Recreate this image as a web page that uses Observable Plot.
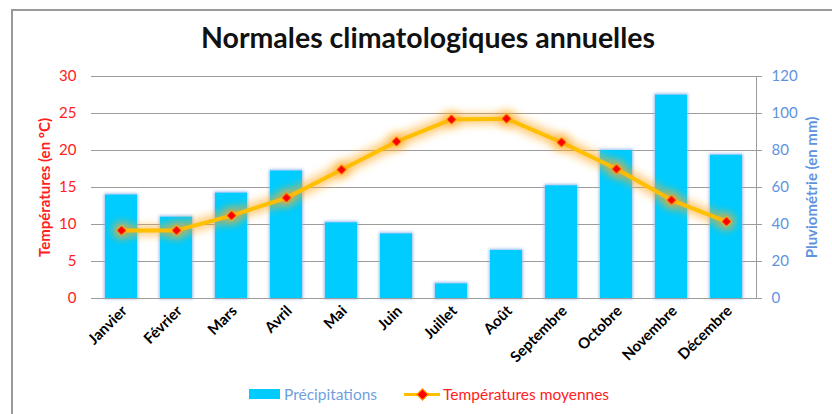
<!DOCTYPE html>
<html><head><meta charset="utf-8">
<script src="https://cdn.jsdelivr.net/npm/d3@7"></script>
<script src="https://cdn.jsdelivr.net/npm/@observablehq/plot@0.6"></script>
<style>
body{margin:0;background:#fff;font-family:Lato,"Open Sans",sans-serif;}
#wrap{position:relative;width:832px;height:414px;overflow:hidden;background:#fff;}
#frame{position:absolute;left:11px;top:9px;width:900px;height:500px;border-left:2px solid #9a9a9a;border-top:2px solid #9a9a9a;}
#chart{position:absolute;left:0;top:0;}
#title{position:absolute;left:0;width:856px;top:20px;text-align:center;font-weight:bold;font-size:28.5px;color:#111;z-index:2;}
#legend{position:absolute;top:385px;left:249px;font-size:15.5px;display:flex;align-items:center;z-index:2;white-space:nowrap;}
.sw{display:inline-block;width:31px;height:10px;background:#00CCFF;margin-right:4px;}
.ln{display:inline-block;position:relative;width:36px;height:12px;margin-left:27px;margin-right:3px;}
.ln:before{content:"";position:absolute;left:0;right:0;top:5px;height:3px;background:#FFC000;}
.ln:after{content:"";position:absolute;left:14px;top:2px;width:7px;height:7px;background:#FF0000;border:1px solid #FFC000;transform:rotate(45deg);}
g[aria-label="y-axis label"] text, g[aria-label="x-axis tick label"] text{font-weight:bold;}
</style>
</head><body>
<div id="wrap">
  <div id="frame"></div>
  <div id="chart"></div>
  <div id="title">Normales climatologiques annuelles</div>
  <div id="legend"><span class="sw"></span><span style="color:#6f9fe0">Précipitations</span><span class="ln"></span><span style="color:#ff2020">Températures moyennes</span></div>
</div>
<script>
const mois = ["Janvier","Février","Mars","Avril","Mai","Juin","Juillet","Août","Septembre","Octobre","Novembre","Décembre"];
const precipitations = [56, 44, 57, 69, 41, 35, 8, 26, 61, 80, 110, 77.5];
const temperatures = [9.2, 9.2, 11.2, 13.6, 17.4, 21.2, 24.2, 24.3, 21.1, 17.5, 13.3, 10.4];
const ticksTemp = [0, 5, 10, 15, 20, 25, 30];
const ticksPluie = [0, 20, 40, 60, 80, 100, 120];
const rapport = 4; // 120 mm <-> 30 °C

const data = mois.map((m, i) => ({mois: m, pluie: precipitations[i], temp: temperatures[i]}));

const plot = Plot.plot({
  width: 832,
  height: 380,
  marginTop: 76,
  marginBottom: 82,
  marginLeft: 91,
  marginRight: 76,
  style: {fontFamily: "Lato, 'Open Sans', sans-serif", background: "transparent"},
  x: {domain: mois, paddingInner: 0.42, paddingOuter: 0.21},
  y: {domain: [0, 30]},
  marks: [
    Plot.gridY(ticksTemp, {stroke: "#9c9c9c", strokeOpacity: 1}),
    Plot.barY(data, {x: "mois", y: d => d.pluie / rapport, fill: "#00CCFF"}),
    Plot.ruleY([0], {stroke: "#9c9c9c"}),
    Plot.frame({anchor: "right", stroke: "#9c9c9c"}),
    Plot.line(data, {x: "mois", y: "temp", stroke: "#FFC000", strokeWidth: 4}),
    Plot.dot(data, {x: "mois", y: "temp", symbol: "diamond2", r: 4.5, fill: "#FF0000", stroke: "#FFC000", strokeWidth: 1}),
    Plot.axisY({anchor: "left", ticks: ticksTemp, tickSize: 0, tickPadding: 15, fontSize: 15, fill: "#FF2020",
      label: "Températures (en °C)", labelArrow: false, labelAnchor: "center", labelOffset: 52}),
    Plot.axisY({anchor: "right", ticks: ticksPluie.map(v => v / rapport), tickFormat: d => d * rapport,
      tickSize: 5, tickPadding: 10, fontSize: 15, fill: "#5f93e0", stroke: "#9c9c9c",
      label: "Pluviométrie (en mm)", labelArrow: false, labelAnchor: "center", labelOffset: 60}),
    Plot.axisX({tickRotate: -45, tickSize: 0, tickPadding: 10, dx: 3, fontSize: 15, fill: "#000", label: null})
  ]
});
document.getElementById("chart").appendChild(plot);

// glow effects
const svg = d3.select(plot);
const defs = svg.insert("defs", ":first-child");
function glow(id, color, dil, blur, op) {
  const f = defs.append("filter").attr("id", id).attr("x", "-50%").attr("y", "-50%").attr("width", "200%").attr("height", "200%");
  f.append("feFlood").attr("flood-color", color).attr("flood-opacity", op).attr("result", "c");
  f.append("feComposite").attr("in", "c").attr("in2", "SourceAlpha").attr("operator", "in").attr("result", "s");
  f.append("feMorphology").attr("in", "s").attr("operator", "dilate").attr("radius", dil).attr("result", "d");
  f.append("feGaussianBlur").attr("in", "d").attr("stdDeviation", blur).attr("result", "b");
  const m = f.append("feMerge");
  m.append("feMergeNode").attr("in", "b");
  m.append("feMergeNode").attr("in", "SourceGraphic");
}
glow("glowBlue", "#8fb6ee", 1, 1.6, 0.9);
glow("glowOrange", "#FFA820", 2.5, 4, 0.6);
svg.selectAll('g[aria-label="bar"]').attr("filter", "url(#glowBlue)");
svg.selectAll('g[aria-label="line"]').attr("filter", "url(#glowOrange)");
svg.selectAll('g[aria-label="dot"]').attr("filter", "url(#glowOrange)");
</script>
</body></html>
